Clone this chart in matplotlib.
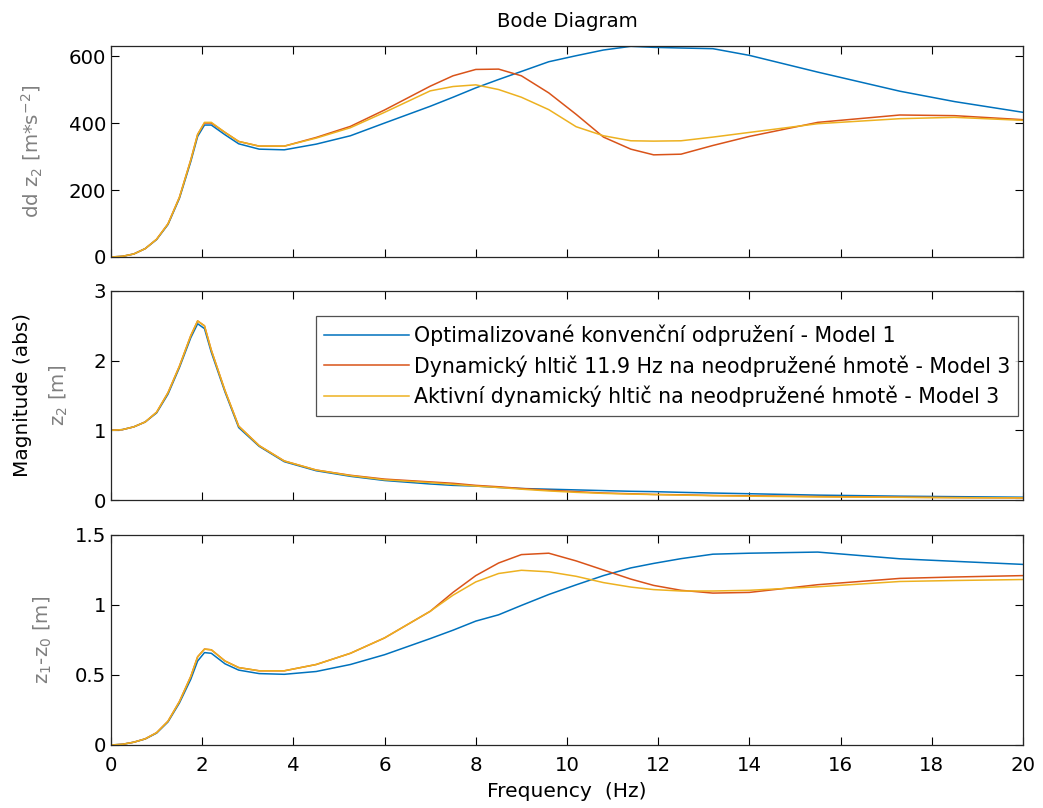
import matplotlib
matplotlib.use("Agg")
import matplotlib.pyplot as plt

plt.rcParams['font.family'] = ['DejaVu Sans']

freq = [0, 0.25, 0.5, 0.75, 1.0, 1.25, 1.5, 1.75, 1.9, 2.05, 2.2, 2.5, 2.8, 3.25, 3.8,
        4.5, 5.25, 6, 7, 7.5, 8, 8.5, 9, 9.6, 10.2, 10.8, 11.4, 11.9, 12.5, 13.2, 14,
        15.5, 17.3, 18.5, 20]

labels = ["Optimalizované konvenční odpružení - Model 1",
          "Dynamický hltič 11.9 Hz na neodpružené hmotě - Model 3",
          "Aktivní dynamický hltič na neodpružené hmotě - Model 3"]
colors = ["#0072BD", "#D95319", "#EDB120"]

# Panel 1: dd z2 [m*s^-2]
acc_m1 = [0, 2, 9, 25, 52, 97, 175, 285, 360, 394, 394, 365, 338, 322, 320,
          337, 362, 400, 450, 477, 505, 530, 554, 583, 601, 618, 629, 626, 624, 622, 602,
          552, 495, 464, 432]
acc_m3 = [0, 2, 9, 25, 53, 99, 178, 290, 366, 400, 400, 372, 345, 331, 331,
          357, 390, 439, 510, 541, 560, 561, 541, 490, 426, 358, 322, 305, 307, 333, 360,
          402, 424, 422, 410]
acc_akt = [0, 2, 9, 25, 53, 99, 178, 290, 366, 402, 402, 372, 345, 331, 331,
           355, 386, 432, 496, 509, 514, 500, 477, 440, 389, 362, 347, 346, 347, 358, 372,
           398, 413, 417, 408]

# Panel 2: z2 [m]
z2_m1 = [1.0, 1.01, 1.05, 1.12, 1.25, 1.52, 1.90, 2.33, 2.53, 2.46, 2.12, 1.55, 1.04, 0.77, 0.55,
         0.42, 0.34, 0.28, 0.23, 0.21, 0.20, 0.18, 0.165, 0.155, 0.145, 0.135, 0.125, 0.12, 0.11, 0.10, 0.09,
         0.07, 0.055, 0.048, 0.04]
z2_m3 = [1.0, 1.01, 1.05, 1.12, 1.26, 1.54, 1.92, 2.36, 2.57, 2.50, 2.15, 1.57, 1.06, 0.78, 0.56,
         0.43, 0.355, 0.30, 0.26, 0.24, 0.21, 0.19, 0.165, 0.14, 0.12, 0.10, 0.09, 0.08, 0.075, 0.065, 0.06,
         0.05, 0.04, 0.035, 0.03]
z2_akt = [1.0, 1.01, 1.05, 1.12, 1.26, 1.54, 1.92, 2.36, 2.57, 2.50, 2.15, 1.57, 1.06, 0.78, 0.56,
          0.43, 0.35, 0.29, 0.25, 0.225, 0.20, 0.18, 0.155, 0.13, 0.11, 0.095, 0.085, 0.078, 0.07, 0.062, 0.055,
          0.045, 0.038, 0.033, 0.03]

# Panel 3: z1-z0 [m]
dz_m1 = [0, 0.005, 0.02, 0.043, 0.085, 0.165, 0.30, 0.47, 0.60, 0.66, 0.655, 0.58, 0.535, 0.51, 0.505,
         0.525, 0.575, 0.645, 0.76, 0.82, 0.885, 0.93, 0.997, 1.075, 1.144, 1.21, 1.265, 1.297, 1.331, 1.363, 1.37,
         1.378, 1.33, 1.312, 1.29]
dz_m3 = [0, 0.005, 0.02, 0.044, 0.088, 0.17, 0.31, 0.49, 0.63, 0.685, 0.68, 0.60, 0.553, 0.53, 0.53,
         0.575, 0.655, 0.765, 0.955, 1.09, 1.21, 1.30, 1.36, 1.37, 1.315, 1.25, 1.185, 1.14, 1.105, 1.085, 1.09,
         1.145, 1.19, 1.20, 1.21]
dz_akt = [0, 0.005, 0.02, 0.044, 0.088, 0.17, 0.31, 0.49, 0.63, 0.685, 0.68, 0.60, 0.553, 0.53, 0.53,
          0.575, 0.655, 0.765, 0.955, 1.07, 1.165, 1.225, 1.248, 1.237, 1.205, 1.16, 1.128, 1.11, 1.10, 1.10, 1.105,
          1.13, 1.168, 1.175, 1.182]

panels = [
    ([acc_m1, acc_m3, acc_akt], (0, 630), [0, 200, 400, 600], ['0', '200', '400', '600'],
     r'dd z$_2$ [m*s$^{-2}$]', -0.072),
    ([z2_m1, z2_m3, z2_akt], (0, 3), [0, 1, 2, 3], ['0', '1', '2', '3'],
     r'z$_2$ [m]', -0.045),
    ([dz_m1, dz_m3, dz_akt], (0, 1.5), [0, 0.5, 1, 1.5], ['0', '0.5', '1', '1.5'],
     r'z$_1$-z$_0$ [m]', -0.063),
]

W, H = 1043, 808
FS = 14.2
fig = plt.figure(figsize=(W / 100, H / 100), dpi=100)
boxes = [(46, 257), (291, 500), (535, 745)]
axes = []
for (top, bot), (series, ylim, yt, ytl, ylab, lx) in zip(boxes, panels):
    ax = fig.add_axes([111 / W, 1 - bot / H, (1023 - 111) / W, (bot - top) / H])
    for s, c, lab in zip(series, colors, labels):
        ax.plot(freq, s, color=c, lw=1.1, label=lab)
    ax.set_xlim(0, 20)
    ax.set_ylim(*ylim)
    ax.set_xticks(range(0, 21, 2))
    ax.set_yticks(yt)
    ax.set_yticklabels(ytl)
    ax.tick_params(direction='in', top=True, right=True, length=6, width=0.8,
                   labelsize=FS, colors='black')
    ax.tick_params(axis='y', pad=3.5)
    ax.tick_params(axis='x', pad=8)
    for sp in ax.spines.values():
        sp.set_linewidth(0.9)
        sp.set_color('#262626')
    ax.set_ylabel(ylab, fontsize=FS, color='#808080')
    ax.yaxis.set_label_coords(lx, 0.5)
    axes.append(ax)

axes[0].tick_params(labelbottom=False)
axes[1].tick_params(labelbottom=False)
axes[2].set_xticklabels([str(v) for v in range(0, 21, 2)])
axes[2].set_xlabel('Frequency  (Hz)', fontsize=14.6, labelpad=5)

axes[0].set_title('Bode Diagram', fontsize=FS, pad=14)

fig.text(23 / W, 1 - 395 / H, 'Magnitude (abs)', rotation=90, ha='center', va='center',
         fontsize=14.4)

leg = axes[1].legend(loc='upper right', bbox_to_anchor=(0.995, 0.88), borderaxespad=0,
                     fontsize=14.8, frameon=True, fancybox=False, handlelength=4.1,
                     handletextpad=0.25, labelspacing=0.45, borderpad=0.4)
leg.get_frame().set_edgecolor('#262626')
leg.get_frame().set_linewidth(0.9)

fig.savefig('out.png', dpi=100)
